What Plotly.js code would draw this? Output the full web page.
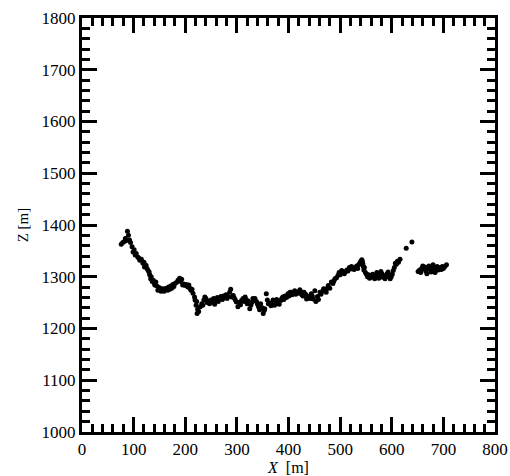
<!DOCTYPE html>
<html><head><meta charset="utf-8">
<script src="https://cdn.plot.ly/plotly-3.0.1.min.js"></script>
<style>html,body{margin:0;padding:0;background:#fff}</style>
</head><body><div id="chart" style="width:510px;height:476px"></div>
<script>
const xValues = [
  76,79,82,84,86,88,90,92,94,97,
  99,101,103,105,108,110,112,115,118,120,
  121,124,126,128,130,131,133,134,136,138,
  140,141,143,145,147,149,151,153,155,157,
  159,161,163,166,168,170,172,174,176,178,
  180,183,186,189,191,193,195,197,200,202,
  205,207,209,211,213,215,218,219,221,222,
  223,224,226,229,232,234,236,238,240,242,
  244,247,250,252,255,257,260,262,264,267,
  269,272,274,277,279,281,283,286,288,290,
  293,295,297,299,302,304,307,309,312,314,
  316,318,320,322,325,327,329,331,333,335,
  338,340,342,344,346,349,351,353,354,357,
  359,361,363,366,368,370,373,375,377,380,
  382,385,387,389,391,393,396,399,401,403,
  405,407,410,412,414,416,418,420,422,424,
  426,428,430,433,435,438,440,442,444,446,
  448,451,453,456,458,461,463,466,468,470,
  473,475,477,480,483,486,488,490,493,496,
  498,500,503,505,508,510,513,515,518,520,
  522,525,527,530,532,534,536,538,540,541,
  542,543,544,545,546,547,549,551,553,555,
  557,559,561,563,565,567,569,571,573,575,
  577,579,581,583,585,587,589,591,593,595,
  597,599,601,603,605,607,609,611,613,616,
  628,639,651,654,656,658,660,662,664,666,
  668,670,672,674,676,678,680,682,684,686,
  688,690,692,694,696,698,700,703,706
];
const zValues = [
  1363,1366,1368,1374,1370,1388,1380,1371,1366,1358,
  1348,1352,1342,1345,1338,1336,1332,1334,1326,1328,
  1319,1322,1316,1312,1309,1304,1296,1300,1291,1293,
  1288,1284,1290,1282,1274,1279,1278,1272,1276,1277,
  1272,1275,1278,1274,1280,1276,1282,1278,1285,1281,
  1287,1289,1293,1297,1291,1295,1284,1286,1283,1285,
  1280,1284,1278,1274,1276,1268,1261,1255,1245,1252,
  1229,1237,1233,1242,1248,1245,1255,1261,1258,1250,
  1253,1248,1255,1251,1258,1247,1255,1260,1252,1257,
  1262,1256,1263,1260,1265,1258,1262,1270,1276,1261,
  1264,1259,1255,1251,1242,1250,1246,1254,1258,1252,
  1261,1256,1248,1253,1238,1245,1250,1258,1254,1258,
  1252,1247,1242,1236,1248,1240,1229,1235,1238,1267,
  1255,1248,1248,1244,1250,1255,1245,1249,1256,1252,
  1247,1254,1258,1261,1256,1263,1260,1267,1263,1270,
  1270,1265,1268,1273,1266,1270,1270,1268,1275,1271,
  1265,1263,1270,1266,1257,1261,1262,1258,1267,1263,
  1257,1273,1252,1262,1256,1270,1266,1272,1277,1274,
  1270,1278,1283,1278,1290,1287,1292,1296,1298,1303,
  1308,1304,1312,1310,1306,1309,1313,1311,1318,1315,
  1320,1317,1314,1318,1321,1316,1323,1326,1330,1328,
  1333,1330,1325,1320,1313,1318,1308,1305,1300,1304,
  1297,1302,1299,1305,1301,1296,1303,1308,1300,1297,
  1304,1310,1306,1299,1302,1296,1300,1306,1309,1303,
  1296,1300,1305,1312,1318,1326,1324,1330,1328,1334,
  1355,1367,1310,1313,1308,1316,1321,1315,1319,1311,
  1306,1316,1321,1314,1309,1318,1323,1312,1308,1316,
  1320,1313,1316,1318,1314,1320,1316,1320,1323
];

const serif = '"Liberation Serif", "Times New Roman", Times, "DejaVu Serif", serif';
const tickFont = {family: serif, size: 17, color: '#000'};
const common = {
  showline: true, linewidth: 3, linecolor: '#000', mirror: 'allticks',
  ticks: 'inside', ticklen: 15, tickwidth: 3, tickcolor: '#000',
  dtick: 100, showgrid: false, zeroline: false, tickfont: tickFont,
  minor: {ticks: 'inside', ticklen: 8, tickwidth: 3, tickcolor: '#000', dtick: 20, showgrid: false}
};
const layout = {
  width: 510, height: 476,
  margin: {l: 82, r: 15, t: 18, b: 44},
  paper_bgcolor: '#fff', plot_bgcolor: '#fff',
  showlegend: false,
  font: tickFont,
  xaxis: Object.assign({}, common, {range: [0, 800], tick0: 0,
    title: {text: '<i>X</i>  [m]', font: {family: serif, size: 16, color: '#000'}, standoff: 4}}),
  yaxis: Object.assign({}, common, {range: [1000, 1800], tick0: 1000,
    title: {text: 'Z [m]', font: {family: serif, size: 15, color: '#000'}, standoff: 10}})
};
Plotly.newPlot('chart', [{
  type: 'scatter', mode: 'markers', x: xValues, y: zValues,
  marker: {color: '#000', size: 5}
}], layout, {staticPlot: true, displayModeBar: false});
</script></body></html>
